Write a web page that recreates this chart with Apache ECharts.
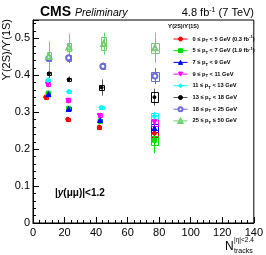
<!DOCTYPE html>
<html><head><meta charset="utf-8">
<script src="https://cdn.jsdelivr.net/npm/echarts@6/dist/echarts.min.js"></script>
<style>html,body{margin:0;padding:0;background:#fff}#c{width:266px;height:255px}</style>
</head><body><div id="c"></div>
<script>
// ---- data ----
const seriesNames = ['0-5', '5-7', '7-9', '9-11', '11-13', '13-18', '18-25', '25-50'];
const legendLabels = [
  '0 ≤ p{s|T} < 5 GeV (0.3 fb{u|-1})',
  '5 ≤ p{s|T} < 7 GeV (1.9 fb{u|-1})',
  '7 ≤ p{s|T} < 9 GeV',
  '9 ≤ p{s|T} < 11 GeV',
  '11 ≤ p{s|T} < 13 GeV',
  '13 ≤ p{s|T} < 18 GeV',
  '18 ≤ p{s|T} < 25 GeV',
  '25 ≤ p{s|T} ≤ 50 GeV'
];
const xRed = [8.0, 22.0, 42.0, 77.0];
const xGreen = [9.6, 22.6, 42.5, 77.0];
const xBlue = [9.8, 22.6, 42.5, 77.0];
const xMagenta = [9.4, 22.4, 42.3, 77.0];
const xCyan = [9.5, 22.6, 43.3, 77.0];
const xBlack = [10.0, 22.6, 43.5, 77.0];
const xCircle = [10.0, 22.6, 44.3, 77.3];
const xTriangle = [10.0, 22.8, 44.8, 77.3];

const yRed = [0.341, 0.281, 0.260, 0.243];
const yGreen = [0.352, 0.311, 0.276, 0.224];
const yBlue = [0.349, 0.309, 0.279, 0.257];
const yMagenta = [0.375, 0.331, 0.290, 0.273];
const yCyan = [0.387, 0.356, 0.313, 0.289];
const yBlack = [0.405, 0.389, 0.367, 0.341];
const yCircle = [0.446, 0.448, 0.425, 0.398];
const yTriangle = [0.452, 0.477, 0.486, 0.475];

const statRed = [0.006, 0.005, 0.005, 0.05];
const statGreen = [0.006, 0.005, 0.006, 0.035];
const statBlue = [0.006, 0.005, 0.006, 0.02];
const statMagenta = [0.007, 0.006, 0.006, 0.015];
const statCyan = [0.007, 0.006, 0.006, 0.012];
const statBlack = [0.012, 0.008, 0.022, 0.023];
const statCircle = [0.012, 0.015, 0.010, 0.022];
const statTriangle = [0.040, 0.035, 0.030, 0.041];

const systRed = [0.004, 0.004, 0.004, 0.010];
const systGreen = [0.004, 0.004, 0.004, 0.012];
const systBlue = [0.004, 0.004, 0.004, 0.010];
const systMagenta = [0.004, 0.004, 0.004, 0.010];
const systCyan = [0.004, 0.004, 0.004, 0.008];
const systBlack = [0.005, 0.005, 0.006, 0.014];
const systCircle = [0.008, 0.008, 0.008, 0.012];
const systTriangle = [0.010, 0.012, 0.018, 0.014];

const boxHalfWidth = [1.2, 1.2, 1.4, 2.5];

const xTicks = [0, 20, 40, 60, 80, 100, 120, 140];
const yTicks = [0, 0.1, 0.2, 0.3, 0.4, 0.5];

// ---- styling ----
const FONT = '"Liberation Sans", Arial, Helvetica, sans-serif';
const groups = [
  {x: xRed, y: yRed, st: statRed, sy: systRed, color: '#ff0000', line: '#ff0000', symbol: 'circle', size: 4},
  {x: xGreen, y: yGreen, st: statGreen, sy: systGreen, color: '#00dd00', line: '#00dd00', symbol: 'rect', size: 4},
  {x: xBlue, y: yBlue, st: statBlue, sy: systBlue, color: '#0000ff', line: '#0000ff', symbol: 'triangle', size: 5},
  {x: xMagenta, y: yMagenta, st: statMagenta, sy: systMagenta, color: '#ff00ff', line: '#ff00ff', symbol: 'triangle', size: 5, rotate: 180},
  {x: xCyan, y: yCyan, st: statCyan, sy: systCyan, color: '#00ffff', line: '#00ffff', symbol: 'diamond', size: 5},
  {x: xBlack, y: yBlack, st: statBlack, sy: systBlack, color: '#000000', line: '#555555', symbol: 'circle', size: 3},
  {x: xCircle, y: yCircle, st: statCircle, sy: systCircle, color: '#6b6bdb', line: '#6b6bdb', symbol: 'emptyCircle', size: 5},
  {x: xTriangle, y: yTriangle, st: statTriangle, sy: systTriangle, color: '#70d070', line: '#70d070', symbol: 'emptyTriangle', size: 5}
];

const series = [];
groups.forEach((g, i) => {
  const errData = g.x.map((xv, k) => [xv, g.y[k], g.st[k], g.sy[k], boxHalfWidth[k]]);
  series.push({
    type: 'custom', name: 'err' + i, z: 2, silent: true,
    data: errData, encode: {x: 0, y: 1},
    renderItem: (params, api) => {
      const x = api.value(0), y = api.value(1), s = api.value(2), sy = api.value(3), hw = api.value(4);
      const c = api.coord([x, y]);
      const t = api.coord([x, y + s]);
      const b = api.coord([x, y - s]);
      const bl = api.coord([x - hw, y - sy]);
      const tr = api.coord([x + hw, y + sy]);
      const cx = Math.round(c[0]) + 0.5;
      const x0 = Math.round(bl[0]) + 0.5, x1 = Math.round(tr[0]) + 0.5;
      const y0 = Math.round(tr[1]) + 0.5, y1 = Math.round(bl[1]) + 0.5;
      return {type: 'group', children: [
        {type: 'line', shape: {x1: cx, y1: t[1], x2: cx, y2: b[1]}, style: {stroke: g.line, lineWidth: 1}},
        {type: 'rect', shape: {x: x0, y: y0, width: x1 - x0, height: y1 - y0}, style: {fill: 'none', stroke: g.color, lineWidth: 1}}
      ]};
    }
  });
  // points separated by gaps, so the line series draws markers only
  const pts = [];
  g.x.forEach((xv, k) => { if (k > 0) pts.push([xv, '-']); pts.push([xv, g.y[k]]); });
  series.push({
    type: 'line', name: seriesNames[i], z: 3,
    data: pts, connectNulls: false,
    symbol: g.symbol, symbolSize: g.size, symbolRotate: g.rotate || 0,
    showAllSymbol: true,
    itemStyle: {color: g.color, borderColor: g.color, borderWidth: 1},
    lineStyle: {width: 1, color: g.line},
    emphasis: {disabled: true},
    animation: false
  });
});

const chart = echarts.init(document.getElementById('c'), null, {renderer: 'canvas'});
chart.setOption({
  animation: false,
  backgroundColor: '#fff',
  grid: {left: 33, right: 10, top: 20, bottom: 32, show: true, borderColor: '#000', borderWidth: 1, backgroundColor: 'transparent'},
  xAxis: {
    type: 'value', min: xTicks[0], max: xTicks[xTicks.length - 1], interval: xTicks[1] - xTicks[0],
    axisLine: {lineStyle: {color: '#000', width: 1}},
    axisTick: {inside: true, length: 6, lineStyle: {color: '#000'}},
    minorTick: {show: true, splitNumber: 5, length: 3, lineStyle: {color: '#000'}},
    splitLine: {show: false},
    axisLabel: {margin: 4, color: '#000', fontFamily: FONT, fontSize: 11}
  },
  yAxis: {
    type: 'value', min: 0, max: 0.55, interval: yTicks[1] - yTicks[0],
    axisLine: {lineStyle: {color: '#000', width: 1}},
    axisTick: {inside: true, length: 6, lineStyle: {color: '#000'}},
    minorTick: {show: true, splitNumber: 5, length: 3, lineStyle: {color: '#000'}},
    splitLine: {show: false},
    axisLabel: {margin: 3, color: '#000', fontFamily: FONT, fontSize: 11, showMaxLabel: false,
      formatter: v => (yTicks.some(t => Math.abs(t - v) < 1e-9) ? String(Math.round(v * 10) / 10) : '')}
  },
  legend: {
    orient: 'vertical', left: 168, top: 30,
    itemWidth: 14, itemHeight: 5, itemGap: 3.7,
    selectedMode: false,
    data: seriesNames,
    lineStyle: {width: 1},
    itemStyle: {borderWidth: 1},
    formatter: name => legendLabels[seriesNames.indexOf(name)],
    textStyle: {
      fontFamily: FONT, fontSize: 5.7, fontWeight: 'bold', color: '#000', lineHeight: 8,
      rich: {
        s: {fontSize: 4.3, fontWeight: 'bold', fontFamily: FONT, verticalAlign: 'bottom', lineHeight: 8, padding: [3, 0, 0, 0]},
        u: {fontSize: 4.3, fontWeight: 'bold', fontFamily: FONT, verticalAlign: 'top', lineHeight: 8}
      }
    }
  },
  graphic: [
    {type: 'text', x: 40, y: 12, style: {text: 'CMS', font: 'bold 14px ' + FONT, fill: '#000', verticalAlign: 'middle'}},
    {type: 'text', x: 75, y: 13, style: {text: 'Preliminary', font: 'italic 10.5px ' + FONT, fill: '#000', verticalAlign: 'middle'}},
    {type: 'text', x: 254, y: 13, style: {text: '4.8 fb{u|-1} (7 TeV)', font: '11px ' + FONT, fill: '#000', align: 'right', verticalAlign: 'middle',
      rich: {u: {fontSize: 7, fontFamily: FONT, verticalAlign: 'top', lineHeight: 12}}}},
    {type: 'text', x: 7, y: 19, rotation: Math.PI / 2, style: {text: 'ϒ(2S)/ϒ(1S)', font: '11px ' + FONT, fill: '#000', align: 'right', verticalAlign: 'middle'}},
    {type: 'text', x: 225, y: 247, style: {text: 'N', font: '12px ' + FONT, fill: '#000', verticalAlign: 'middle'}},
    {type: 'text', x: 234, y: 240, style: {text: '|η|<2.4', font: '6.5px ' + FONT, fill: '#000', verticalAlign: 'middle'}},
    {type: 'text', x: 234, y: 251, style: {text: 'tracks', font: '7px ' + FONT, fill: '#000', verticalAlign: 'middle'}},
    {type: 'text', x: 55, y: 193, style: {text: '|{i|y}(μμ)|<1.2', font: 'bold 10px ' + FONT, fill: '#000', verticalAlign: 'middle',
      rich: {i: {fontStyle: 'italic', fontWeight: 'bold', fontSize: 10, fontFamily: FONT}}}},
    {type: 'text', x: 168, y: 26, style: {text: 'ϒ(2S)/ϒ(1S)', font: 'bold 5.5px ' + FONT, fill: '#000', verticalAlign: 'middle'}}
  ],
  series: series
});
</script>
</body></html>
